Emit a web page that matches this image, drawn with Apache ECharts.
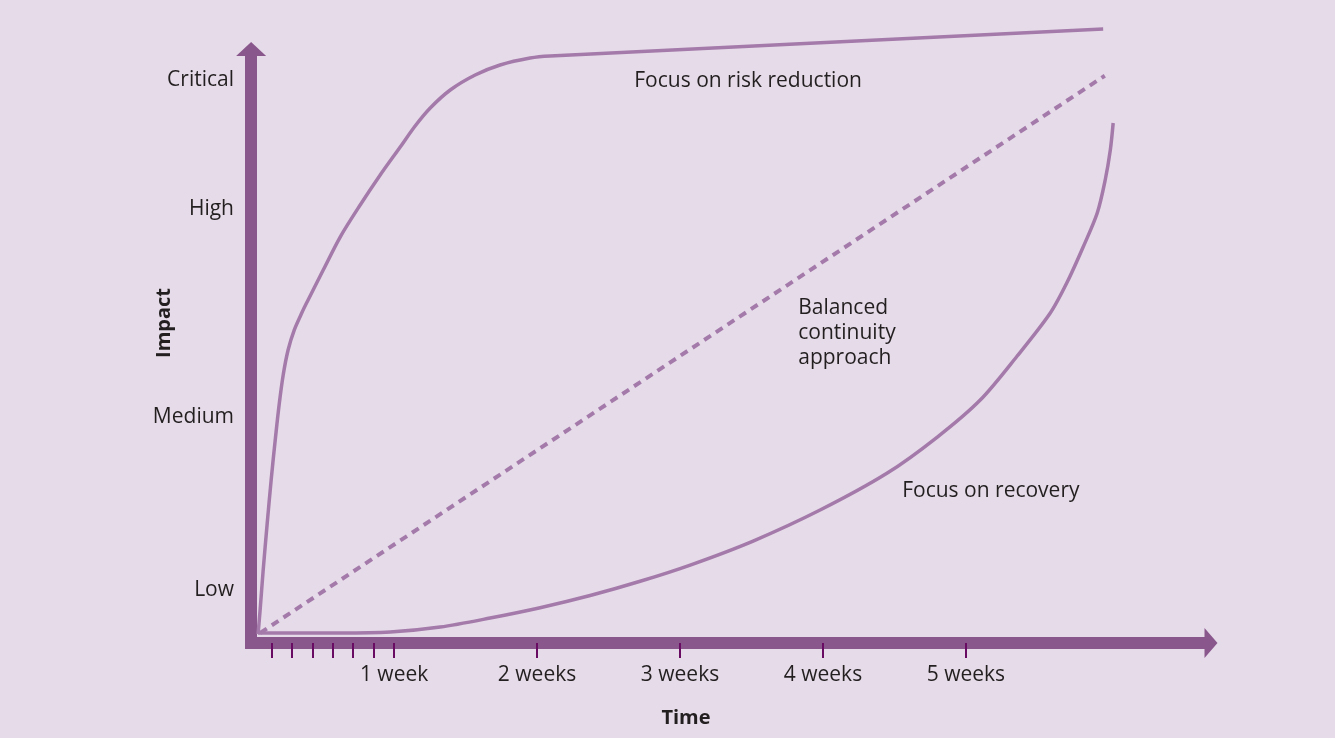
<!DOCTYPE html>
<html>
<head>
<meta charset="utf-8">
<title>Impact over time</title>
<script src="https://cdn.jsdelivr.net/npm/echarts@6/dist/echarts.min.js"></script>
<style>
  html, body { margin: 0; padding: 0; background: #e6dce9; }
  #chart { width: 1335px; height: 738px; }
</style>
</head>
<body>
<div id="chart"></div>
<script>
// x in days since the incident, y on an impact scale of 0..100
const dayTicks = [1, 2, 3, 4, 5, 6, 7, 14, 21, 28, 35];
const weekValues = [7, 14, 21, 28, 35];
const weekLabels = ['1 week', '2 weeks', '3 weeks', '4 weeks', '5 weeks'];
const impactValues = [8.95, 38.05, 73.05, 94.75];
const impactLabels = ['Low', 'Medium', 'High', 'Critical'];

// Focus on risk reduction
const riskReduction = [
  [0.34, 1.52], [0.44, 5.56], [0.59, 12.29], [0.78, 19.87], [0.98, 27.44],
  [1.18, 34.18], [1.37, 40.07], [1.57, 45.12], [1.81, 49.33], [2.11, 52.69],
  [2.5, 55.72], [2.74, 57.41], [3.53, 62.79], [4.36, 68.35], [5.34, 73.74],
  [6.32, 78.79], [7.3, 83.5], [8.03, 87.04], [8.77, 90.07], [9.75, 93.1],
  [10.97, 95.62], [12.19, 97.31], [13.66, 98.48], [14.64, 98.82], [41.72, 103.37]
];
// Balanced continuity approach
const balanced = [[0.44, 1.7], [41.8, 95.5]];
// Focus on recovery
const recovery = [
  [0.34, 1.68], [4.36, 1.68], [6.81, 1.85], [9.26, 2.69], [11.7, 4.21],
  [14.15, 5.95], [16.6, 8.0], [19.05, 10.4], [21.5, 13.13], [24.58, 17.17],
  [27.86, 22.39], [31.15, 28.62], [33.6, 34.68], [35.7, 40.91], [37.51, 48.32],
  [39.13, 55.56], [39.96, 60.77], [40.74, 66.67], [41.43, 72.39], [41.82, 77.95],
  [42.07, 83.0], [42.21, 87.54]
];
// annotation texts, anchored at their left edge
const notes = [
  { text: 'Focus on risk reduction', at: [18.76, 94.6] },
  { text: 'Balanced\ncontinuity\napproach', at: [26.79, 52.2] },
  { text: 'Focus on recovery', at: [31.88, 25.6] }
];

const axisColor = '#8a578c';
const curveColor = '#a47aaa';
const textColor = '#231f20';
const font = '"Open Sans", "Noto Sans", sans-serif';

const chart = echarts.init(document.getElementById('chart'));

function curve(data, dashed) {
  return {
    type: 'line',
    data: data,
    showSymbol: false,
    smooth: dashed ? false : 0.3,
    clip: false,
    silent: true,
    lineStyle: {
      color: curveColor,
      width: dashed ? 4 : 3.5,
      type: dashed ? [8, 6] : 'solid'
    }
  };
}

chart.setOption({
  backgroundColor: '#e6dce9',
  animation: false,
  textStyle: { fontFamily: font },
  grid: { left: 245, right: 124, top: 49, bottom: 89 },
  xAxis: {
    type: 'value',
    min: -0.3,
    max: 47,
    name: 'Time',
    nameLocation: 'middle',
    nameGap: 59,
    nameTextStyle: { color: textColor, fontSize: 20, fontWeight: 'bold', padding: [0, 84, 0, 0] },
    splitLine: { show: false },
    axisLine: {
      onZero: true,
      symbol: ['none', 'triangle'],
      symbolSize: [30, 13],
      lineStyle: { color: axisColor, width: 12, cap: 'butt' }
    },
    axisTick: {
      customValues: dayTicks,
      length: 15,
      lineStyle: { color: '#6a0b63', width: 2 }
    },
    axisLabel: {
      customValues: weekValues,
      margin: 16,
      color: textColor,
      fontSize: 21,
      formatter: function (v) {
        const i = weekValues.indexOf(v);
        return i >= 0 ? weekLabels[i] : '';
      }
    }
  },
  yAxis: {
    type: 'value',
    min: -1,
    max: 100,
    name: 'Impact',
    nameLocation: 'middle',
    nameRotate: 90,
    nameGap: 71,
    nameMoveOverlap: false,
    nameTextStyle: { color: textColor, fontSize: 20, fontWeight: 'bold', padding: [0, 0, 0, 52] },
    splitLine: { show: false },
    axisLine: {
      onZero: true,
      symbol: ['none', 'triangle'],
      symbolSize: [30, 14],
      lineStyle: { color: axisColor, width: 12, cap: 'butt' }
    },
    axisTick: { show: false },
    axisLabel: {
      customValues: impactValues,
      margin: 11,
      color: textColor,
      fontSize: 21,
      formatter: function (v) {
        const i = impactValues.indexOf(v);
        return i >= 0 ? impactLabels[i] : '';
      }
    }
  },
  series: [
    curve(riskReduction, false),
    curve(balanced, true),
    curve(recovery, false),
    {
      type: 'scatter',
      silent: true,
      symbolSize: 0,
      itemStyle: { opacity: 1 },
      data: notes.map(n => ({ value: n.at, name: n.text })),
      label: {
        show: true,
        position: 'right',
        distance: 0,
        formatter: p => p.name,
        color: textColor,
        opacity: 1,
        fontSize: 21,
        lineHeight: 25,
        align: 'left'
      }
    }
  ]
});
</script>
</body>
</html>
